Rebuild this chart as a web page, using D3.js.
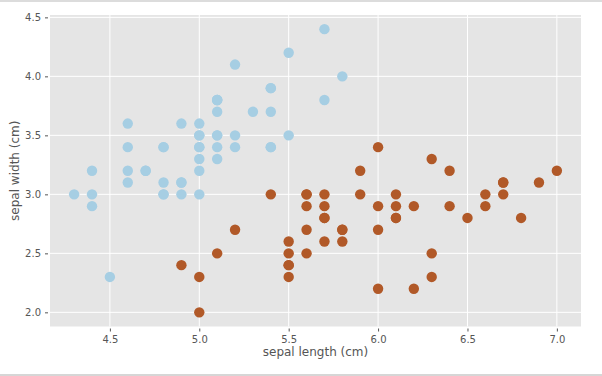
<!DOCTYPE html>
<html>
<head>
<meta charset="utf-8">
<script src="https://cdn.jsdelivr.net/npm/d3@7"></script>
<style>
  body { margin: 0; background: #fff; }
  #chart { width: 602px; height: 376px; }
  text { font-family: "DejaVu Sans", sans-serif; }
</style>
</head>
<body>
<div id="chart"></div>
<script>
// iris, first two classes: sepal length / sepal width
let setosaLength = [5.1,4.9,4.7,4.6,5.0,5.4,4.6,5.0,4.4,4.9,5.4,4.8,4.8,4.3,5.8,5.7,5.4,5.1,5.7,5.1,5.4,5.1,4.6,5.1,4.8,5.0,5.0,5.2,5.2,4.7,4.8,5.4,5.2,5.5,4.9,5.0,5.5,4.9,4.4,5.1,5.0,4.5,4.4,5.0,5.1,4.8,5.1,4.6,5.3,5.0];
let setosaWidth  = [3.5,3.0,3.2,3.1,3.6,3.9,3.4,3.4,2.9,3.1,3.7,3.4,3.0,3.0,4.0,4.4,3.9,3.5,3.8,3.8,3.4,3.7,3.6,3.3,3.4,3.0,3.4,3.5,3.4,3.2,3.1,3.4,4.1,4.2,3.1,3.2,3.5,3.6,3.0,3.4,3.5,2.3,3.2,3.5,3.8,3.0,3.8,3.2,3.7,3.3];
let versiLength  = [7.0,6.4,6.9,5.5,6.5,5.7,6.3,4.9,6.6,5.2,5.0,5.9,6.0,6.1,5.6,6.7,5.6,5.8,6.2,5.6,5.9,6.1,6.3,6.1,6.4,6.6,6.8,6.7,6.0,5.7,5.5,5.5,5.8,6.0,5.4,6.0,6.7,6.3,5.6,5.5,5.5,6.1,5.8,5.0,5.6,5.7,5.7,6.2,5.1,5.7];
let versiWidth   = [3.2,3.2,3.1,2.3,2.8,2.8,3.3,2.4,2.9,2.7,2.0,3.0,2.2,2.9,2.9,3.1,3.0,2.7,2.2,2.5,3.2,2.8,2.5,2.8,2.9,3.0,2.8,3.0,2.9,2.6,2.4,2.4,2.7,2.7,3.0,3.4,3.1,2.3,3.0,2.5,2.6,3.0,2.6,2.3,2.7,3.0,2.9,2.9,2.5,2.8];
let xTicks = [4.5, 5.0, 5.5, 6.0, 6.5, 7.0];
let yTicks = [2.0, 2.5, 3.0, 3.5, 4.0, 4.5];

let W = 602, H = 376;
let plot = {left: 50, right: 581, top: 15, bottom: 326.5};

let svg = d3.select("#chart").append("svg")
    .attr("width", W)
    .attr("height", H);

// notebook frame lines
svg.append("line").attr("x1", 0).attr("x2", W).attr("y1", 1).attr("y2", 1)
    .attr("stroke", "#d0d0d0").attr("stroke-width", 1.5);
svg.append("line").attr("x1", 0).attr("x2", W).attr("y1", 375).attr("y2", 375)
    .attr("stroke", "#c8c8c8").attr("stroke-width", 1.5);

let x = d3.scaleLinear().domain([4.165, 7.135]).range([plot.left, plot.right]);
let y = d3.scaleLinear().domain([1.88, 4.52]).range([plot.bottom, plot.top]);

// background
svg.append("rect")
    .attr("x", plot.left).attr("y", plot.top)
    .attr("width", plot.right - plot.left)
    .attr("height", plot.bottom - plot.top)
    .attr("fill", "#e5e5e5");

// grid
svg.append("g").selectAll("line").data(xTicks).join("line")
    .attr("x1", d => x(d)).attr("x2", d => x(d))
    .attr("y1", plot.top).attr("y2", plot.bottom)
    .attr("stroke", "#fff").attr("stroke-width", 1);
svg.append("g").selectAll("line").data(yTicks).join("line")
    .attr("y1", d => y(d)).attr("y2", d => y(d))
    .attr("x1", plot.left).attr("x2", plot.right)
    .attr("stroke", "#fff").attr("stroke-width", 1);

// axes
let xAxis = svg.append("g")
    .attr("transform", "translate(0," + (plot.bottom + 2) + ")")
    .call(d3.axisBottom(x).tickValues(xTicks).tickFormat(d3.format(".1f")).tickSize(3).tickPadding(4));
let yAxis = svg.append("g")
    .attr("transform", "translate(" + (plot.left - 2) + ",0)")
    .call(d3.axisLeft(y).tickValues(yTicks).tickFormat(d3.format(".1f")).tickSize(3).tickPadding(4));

[xAxis, yAxis].forEach(function (a) {
    a.select(".domain").remove();
    a.selectAll(".tick line").attr("stroke", "#555");
    a.selectAll(".tick text")
        .attr("fill", "#555")
        .style("font-size", "10px")
        .style("font-family", "DejaVu Sans, sans-serif");
});

// points
let setosa = setosaLength.map((d, i) => ({x: d, y: setosaWidth[i]}));
let versi = versiLength.map((d, i) => ({x: d, y: versiWidth[i]}));

svg.append("g").selectAll("circle").data(setosa).join("circle")
    .attr("cx", d => x(d.x)).attr("cy", d => y(d.y))
    .attr("r", 5.2)
    .attr("fill", "#a6cee3");
svg.append("g").selectAll("circle").data(versi).join("circle")
    .attr("cx", d => x(d.x)).attr("cy", d => y(d.y))
    .attr("r", 5.2)
    .attr("fill", "#b15928");

// labels
svg.append("text")
    .attr("x", (plot.left + plot.right) / 2)
    .attr("y", 356)
    .attr("text-anchor", "middle")
    .attr("fill", "#555")
    .style("font-size", "12px")
    .text("sepal length (cm)");
svg.append("text")
    .attr("transform", "translate(19," + ((plot.top + plot.bottom) / 2) + ") rotate(-90)")
    .attr("text-anchor", "middle")
    .attr("fill", "#555")
    .style("font-size", "12px")
    .text("sepal width (cm)");
</script>
</body>
</html>
